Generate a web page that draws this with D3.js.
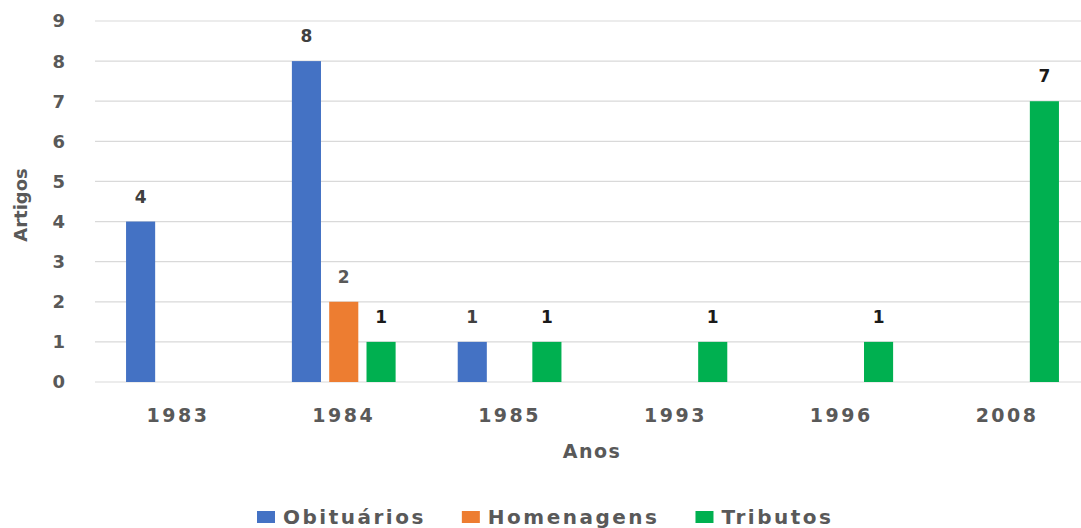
<!DOCTYPE html>
<html>
<head>
<meta charset="utf-8">
<script src="https://cdn.jsdelivr.net/npm/d3@7"></script>
<style>
  body { margin: 0; background: #fff; }
  text { font-family: "DejaVu Sans", sans-serif; font-weight: bold; }
</style>
</head>
<body>
<svg id="chart"></svg>
<script>
const years = ["1983", "1984", "1985", "1993", "1996", "2008"];
const seriesNames = ["Obituários", "Homenagens", "Tributos"];
const obituarios = [4, 8, 1, 0, 0, 0];
const homenagens = [0, 2, 0, 0, 0, 0];
const tributos = [0, 1, 1, 1, 1, 7];
const yTicks = [0, 1, 2, 3, 4, 5, 6, 7, 8, 9];

const colors = ["#4472C4", "#ED7D31", "#00B050"];
const labelColors = ["#404040", "#595959", "#1a1a1a"];

const width = 1081, height = 528;
const margin = { top: 21, right: -9, bottom: 146, left: 95 };

const svg = d3.select("#chart")
    .attr("width", width)
    .attr("height", height);

const values = [obituarios, homenagens, tributos];
const data = years.map((y, i) => ({
    year: y,
    items: seriesNames.map((s, j) => ({ series: s, idx: j, value: values[j][i] }))
}));

const x0 = d3.scaleBand()
    .domain(years)
    .range([margin.left, width - margin.right])
    .paddingInner(0.325)
    .paddingOuter(0.1625);

const x1 = d3.scaleBand()
    .domain(seriesNames)
    .range([0, x0.bandwidth()])
    .paddingInner(0.22)
    .paddingOuter(0.11);

const y = d3.scaleLinear()
    .domain([0, 9])
    .range([height - margin.bottom, margin.top]);

// gridlines
svg.append("g")
    .selectAll("line")
    .data(yTicks)
    .enter()
    .append("line")
    .attr("x1", margin.left)
    .attr("x2", width)
    .attr("y1", d => y(d))
    .attr("y2", d => y(d))
    .attr("stroke", "#d9d9d9")
    .attr("stroke-width", 1.2);

// y tick labels
svg.append("g")
    .selectAll("text")
    .data(yTicks)
    .enter()
    .append("text")
    .attr("x", 65)
    .attr("y", d => y(d))
    .attr("dy", "0.36em")
    .attr("text-anchor", "end")
    .style("font-size", "18px")
    .attr("fill", "#595959")
    .text(d => d);

// x tick labels
svg.append("g")
    .selectAll("text")
    .data(years)
    .enter()
    .append("text")
    .attr("x", d => x0(d) + x0.bandwidth() / 2)
    .attr("y", 422)
    .attr("text-anchor", "middle")
    .style("font-size", "19px")
    .style("letter-spacing", "2.5px")
    .attr("fill", "#595959")
    .text(d => d);

// bars
const groups = svg.append("g")
    .selectAll("g")
    .data(data)
    .enter()
    .append("g")
    .attr("transform", d => `translate(${x0(d.year)},0)`);

groups.selectAll("rect")
    .data(d => d.items.filter(v => v.value > 0))
    .enter()
    .append("rect")
    .attr("x", d => x1(d.series))
    .attr("y", d => y(d.value))
    .attr("width", x1.bandwidth())
    .attr("height", d => y(0) - y(d.value))
    .attr("fill", d => colors[d.idx]);

groups.selectAll("text")
    .data(d => d.items.filter(v => v.value > 0))
    .enter()
    .append("text")
    .attr("x", d => x1(d.series) + x1.bandwidth() / 2)
    .attr("y", d => y(d.value) - 19)
    .attr("text-anchor", "middle")
    .style("font-size", "17px")
    .attr("fill", d => labelColors[d.idx])
    .text(d => d.value);

// axis titles
svg.append("text")
    .attr("transform", "translate(27,205) rotate(-90)")
    .attr("text-anchor", "middle")
    .style("font-size", "18px")
    .attr("fill", "#595959")
    .text("Artigos");

svg.append("text")
    .attr("x", 592)
    .attr("y", 458)
    .attr("text-anchor", "middle")
    .style("font-size", "19px")
    .style("letter-spacing", "1.5px")
    .attr("fill", "#595959")
    .text("Anos");

// legend
const legend = svg.append("g");
let lx = 257;
seriesNames.forEach((s, i) => {
    legend.append("rect")
        .attr("x", lx)
        .attr("y", 511)
        .attr("width", 18)
        .attr("height", 12)
        .attr("fill", colors[i]);
    const t = legend.append("text")
        .attr("x", lx + 26)
        .attr("y", 524)
        .style("font-size", "20px")
        .style("letter-spacing", "2.5px")
        .attr("fill", "#595959")
        .text(s);
    lx += 26 + t.node().getComputedTextLength() + 36;
});
</script>
</body>
</html>
